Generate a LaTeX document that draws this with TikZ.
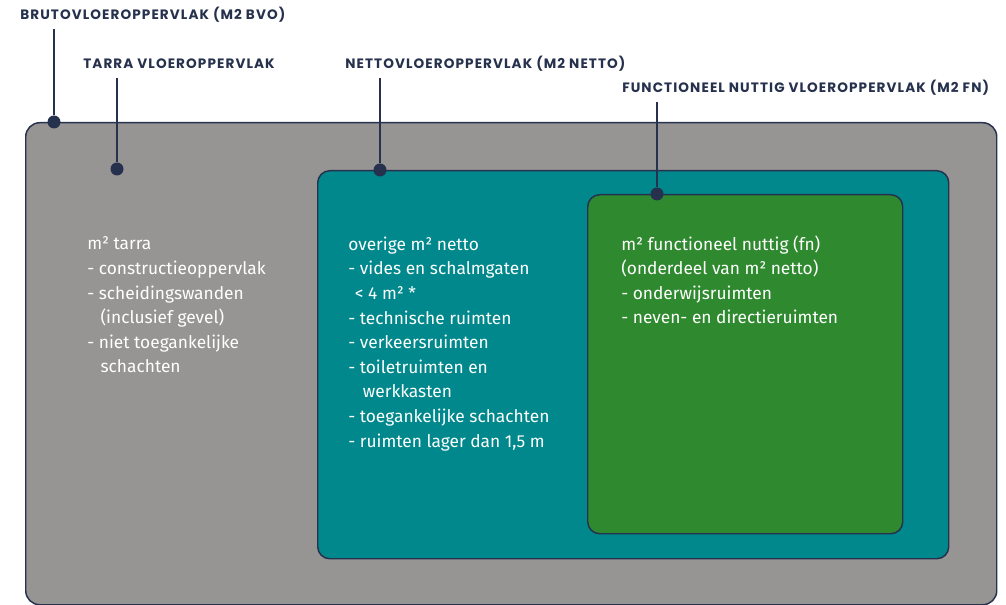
\documentclass[tikz,border=0pt]{standalone}
\usepackage{fontspec}
\setmainfont{Fira Sans}
\newfontfamily\labelfont[LetterSpace=8]{Poppins}
\definecolor{navy}{HTML}{26314D}
\definecolor{bvogray}{HTML}{979593}
\definecolor{nettoteal}{HTML}{00888C}
\definecolor{fngreen}{HTML}{2F8A2F}

\begin{document}
\begin{tikzpicture}
[x=0.75pt,y=-0.75pt,
area/.style={draw=navy,line width=1.1pt,rounded corners=9pt,anchor=north west,inner sep=0pt},
dot/.style={circle,fill=navy,inner sep=0pt,minimum size=9.75pt},
title/.style={font=\labelfont\bfseries\fontsize{10.2}{12}\selectfont,text=navy,anchor=base west,inner xsep=0pt,inner ysep=7pt,text depth=0pt},
leader/.style={draw=navy,line width=1.5pt},
body/.style={font=\fontsize{13}{18.45}\selectfont,text=white,align=left,anchor=base west,inner sep=0pt}]
\useasboundingbox (0,0) rectangle (1006,605);
\node[area,fill=bvogray,minimum width=728.25pt,minimum height=361.5pt,rounded corners=10.5pt] (bruto) at (25,122) {};
\node[area,fill=nettoteal,minimum width=473.25pt,minimum height=291pt] (netto) at (317,170) {};
\node[area,fill=fngreen,minimum width=236.25pt,minimum height=254.25pt] (fn) at (587,194) {};
\node[title] (bvo) at (20,19.5) {BRUTOVLOEROPPERVLAK (M2 BVO)};
\node[title] (tarlabel) at (83,68.5) {TARRA VLOEROPPERVLAK};
\node[title] (netlabel) at (345,68.5) {NETTOVLOEROPPERVLAK (M2 NETTO)};
\node[title] (fnlabel) at (622,92.5) {FUNCTIONEEL NUTTIG VLOEROPPERVLAK (M2 FN)};
\node[dot] (bvodot) at (54,122) {};
\node[dot] (tardot) at (117,169) {};
\node[dot] (netdot) at (380,170) {};
\node[dot] (fndot) at (657,194) {};
\draw[leader] (bvo.south -| bvodot) -- (bvodot);
\draw[leader] (tarlabel.south -| tardot) -- (tardot);
\draw[leader] (netlabel.south -| netdot) -- (netdot);
\draw[leader] (fnlabel.south -| fndot) -- (fndot);
% base anchor sits on the last line
\node[body] (tartext) at (87,373) {m² tarra\\- constructieoppervlak\\- scheidingswanden\\\hspace*{10pt}(inclusief gevel)\\- niet toegankelijke\\\hspace*{10pt}schachten};
\node[body] (nettext) at (348,447) {overige m² netto\\- vides en schalmgaten\\\hspace*{5pt}< 4 m² *\\- technische ruimten\\- verkeersruimten\\- toiletruimten en\\\hspace*{11pt}werkkasten\\- toegankelijke schachten\\- ruimten lager dan 1,5 m};
\node[body] (fntext) at (621,324) {m² functioneel nuttig (fn)\\(onderdeel van m² netto)\\- onderwijsruimten\\- neven- en directieruimten};
\end{tikzpicture}
\end{document}
